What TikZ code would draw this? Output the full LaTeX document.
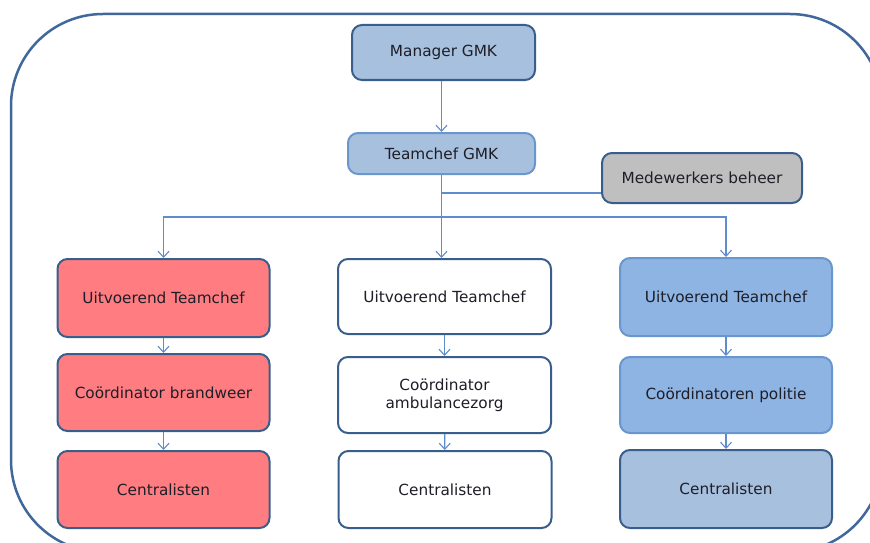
\documentclass[tikz,border=0pt]{standalone}
\usepackage{fontspec}
\setmainfont{DejaVu Sans}
\usetikzlibrary{arrows.meta}
\definecolor{framecol}{RGB}{65,104,154}
\definecolor{darkborder}{RGB}{58,94,140}
\definecolor{lightborder}{RGB}{105,150,205}
\definecolor{mgrfill}{RGB}{167,192,222}
\definecolor{redfill}{RGB}{255,124,128}
\definecolor{bluefill}{RGB}{142,180,227}
\definecolor{grayfill}{RGB}{191,191,191}
\definecolor{conncol}{RGB}{95,140,205}
\definecolor{txtcol}{RGB}{30,30,40}
\tikzset{
  box/.style={draw=darkborder, line width=2pt, rounded corners=10pt, align=center,
    text=txtcol, font=\fontsize{15.3}{18}\selectfont, inner sep=0pt},
  conn/.style={draw=conncol, line width=1.2pt, -{Straight Barb[length=6pt,width=11pt,line width=1.1pt]}},
  plainconn/.style={draw=conncol, line width=1.2pt},
}
\begin{document}
\begin{tikzpicture}[x=1pt,y=-1pt]
\useasboundingbox (0,0) rectangle (870,543);
\begin{scope}
\clip (0,0) rectangle (870,543);
\draw[framecol, line width=2.5pt, rounded corners=92pt] (11,14) rectangle (882,552);
\end{scope}
% top
\node[box, fill=mgrfill, minimum width=183pt, minimum height=55pt] (mgr) at (443.5,52.5) {Manager GMK};
\node[box, fill=mgrfill, draw=lightborder, minimum width=187pt, minimum height=41pt] (tc) at (441.5,153.5) {Teamchef GMK};
\node[box, fill=grayfill, minimum width=200pt, minimum height=50pt] (mw) at (702,178) {Medewerkers beheer};
% left column
\node[box, fill=redfill, minimum width=212pt, minimum height=78pt] (l1) at (163.5,298) {Uitvoerend Teamchef};
\node[box, fill=redfill, minimum width=212pt, minimum height=77pt] (l2) at (163.5,392.5) {Coördinator brandweer};
\node[box, fill=redfill, minimum width=212pt, minimum height=77pt] (l3) at (163.5,489.5) {Centralisten};
% middle column
\node[box, fill=white, minimum width=213pt, minimum height=75pt] (m1) at (444.5,296.5) {Uitvoerend Teamchef};
\node[box, fill=white, minimum width=213pt, minimum height=76pt] (m2) at (444.5,395) {Coördinator\\ambulancezorg};
\node[box, fill=white, minimum width=213pt, minimum height=77pt] (m3) at (445,489.5) {Centralisten};
% right column
\node[box, fill=bluefill, draw=lightborder, minimum width=212pt, minimum height=78pt] (r1) at (726,297) {Uitvoerend Teamchef};
\node[box, fill=bluefill, draw=lightborder, minimum width=212pt, minimum height=76pt] (r2) at (726,395) {Coördinatoren politie};
\node[box, fill=mgrfill, minimum width=212pt, minimum height=78pt] (r3) at (726,489) {Centralisten};
% connectors
\coordinate (hub) at (tc.south |- 0,217);
\coordinate (mwj) at (tc.south |- 0,193);
\draw[conn] (mgr.south -| tc.north) -- (tc.north);
\draw[conn] (tc.south) -- (tc.south |- m1.north);
\draw[plainconn] (mw.west |- mwj) -- (mwj);
\draw[conn] (hub) -- (l1.north |- hub) -- (l1.north);
\draw[conn] (hub) -- (r1.north |- hub) -- (r1.north);
\draw[conn] (l1) -- (l2);
\draw[conn] (l2) -- (l3);
\draw[conn] (m1) -- (m2);
\draw[conn] (m2) -- (m3);
\draw[conn] (r1) -- (r2);
\draw[conn] (r2) -- (r3);
\end{tikzpicture}
\end{document}
